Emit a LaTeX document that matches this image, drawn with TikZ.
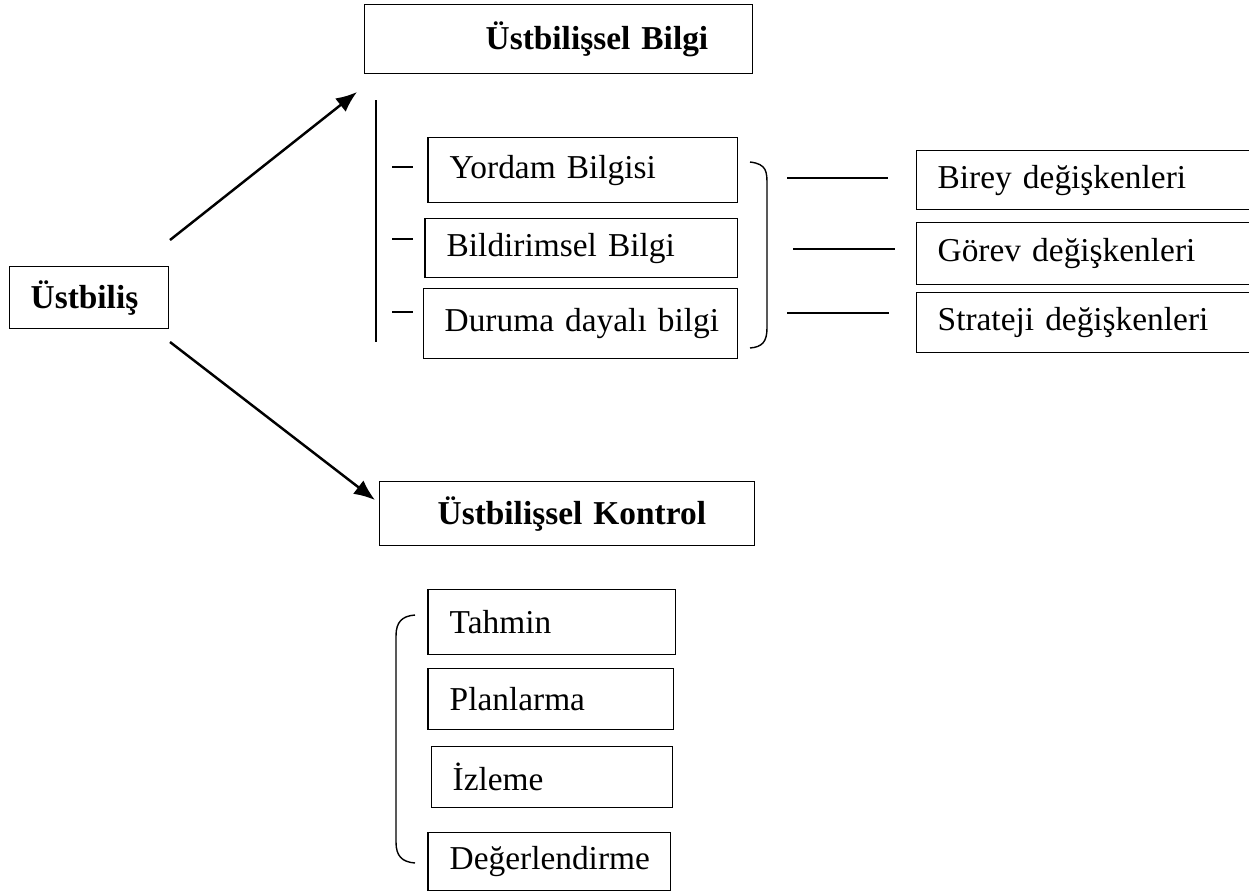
\documentclass[tikz,border=0pt]{standalone}
\usepackage{fontspec}
\setmainfont{Liberation Serif}
\usepackage{tikz}
\usetikzlibrary{arrows.meta}

\tikzset{
    ibox/.style 2 args={draw, line width=0.8pt, anchor=north west, align=left,
        inner xsep=0.42cm, minimum width=#1, text width=#1-0.84cm, minimum height=#2,
        font=\fontsize{19}{22}\selectfont},
    tbox/.style 2 args={ibox={#1}{#2}, font=\fontsize{19}{22}\selectfont\bfseries},
    arr/.style={line width=1.4pt, -{Latex[length=4.2mm,width=3.4mm]}},
    thin line/.style={line width=0.8pt}
}

\begin{document}
\begin{tikzpicture}[x=0.02cm, y=-0.02cm]
    \useasboundingbox (0,0) rectangle (1249,894);

    % main boxes
    \node[tbox={3.18cm}{1.24cm}] (ust) at (9,266) {Üstbiliş};
    \node[tbox={7.76cm}{1.38cm}] (bilgi) at (364,4) {\hspace*{2cm}Üstbilişsel Bilgi};
    \node[tbox={7.5cm}{1.28cm}] (kontrol) at (379,481) {\hspace*{0.74cm}Üstbilişsel Kontrol};

    % draw arrows
    \coordinate (upstart) at (170,240);
    \coordinate (upend) at (357,92);
    \coordinate (downstart) at (170,342);
    \coordinate (downend) at (375,500);
    \draw[arr] (upstart) -- (upend);
    \draw[arr] (downstart) -- (downend);

    % knowledge boxes
    \node[ibox={6.18cm}{1.3cm}] (yordam) at (428,137) {Yordam Bilgisi};
    \node[ibox={6.24cm}{1.18cm}] (bildir) at (425,218) {Bildirimsel Bilgi};
    \node[ibox={6.28cm}{1.4cm}] (durum) at (423,288) {\mbox{Duruma dayalı bilgi}};

    % variable boxes (cut at the right edge)
    \node[ibox={7.6cm}{1.18cm}] (birey) at (916,150) {Birey değişkenleri};
    \node[ibox={7.6cm}{1.24cm}] (gorev) at (916,222) {Görev değişkenleri};
    \node[ibox={7.6cm}{1.2cm}] (strat) at (916,292) {Strateji değişkenleri};

    % control boxes
    \node[ibox={4.94cm}{1.3cm}] (tahmin) at (428,589) {Tahmin};
    \node[ibox={4.9cm}{1.22cm}] (plan) at (428,668) {Planlarma};
    \node[ibox={4.82cm}{1.22cm}] (izle) at (431,746) {İzleme};
    \node[ibox={4.84cm}{1.16cm}] (deger) at (428,832) {Değerlendirme};

    % heavier left edges
    \foreach \b in {yordam, bildir, tahmin, plan, deger}
    \draw[line width=1.6pt] (\b.north west) -- (\b.south west);

    % draw vertical line and ticks
    \draw[thin line] (376,100) -- (376,342);
    \foreach \y in {167,239,312}
    \draw[thin line] (392,\y) -- (413,\y);

    % draw right bracket and lines
    \draw[thin line] (750,162) .. controls (767,164) and (767,172) .. (767,185)
        -- (767,328) .. controls (767,342) and (762,347) .. (750,348);
    \draw[thin line] (787,178) -- (888,178);
    \draw[thin line] (793,249) -- (895,249);
    \draw[thin line] (787,313) -- (889,313);

    % draw left bracket
    \draw[thin line] (415,615) .. controls (402,616) and (396,622) .. (396,636)
        -- (396,842) .. controls (396,856) and (402,862) .. (415,863);
\end{tikzpicture}
\end{document}
